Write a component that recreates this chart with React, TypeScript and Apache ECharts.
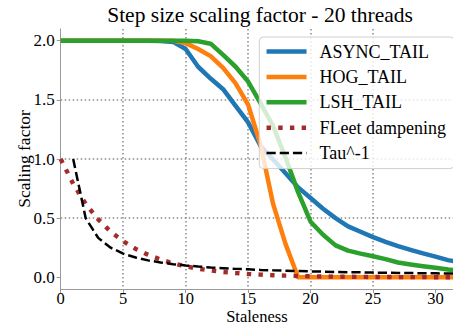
import React, { useEffect, useRef } from 'react';
import * as echarts from 'echarts';

const staleness = [0, 1, 2, 3, 4, 5, 6, 7, 8, 9, 10, 11, 12, 13, 14, 15, 16, 17, 18, 19, 20, 21, 22, 23, 24, 25, 26, 27, 28, 29, 30, 31, 32];
const asyncTail = [2.0, 2.0, 2.0, 2.0, 2.0, 2.0, 2.0, 2.0, 1.998, 1.99, 1.93, 1.78, 1.68, 1.59, 1.45, 1.31, 1.11, 0.995, 0.88, 0.76, 0.67, 0.58, 0.5, 0.43, 0.385, 0.34, 0.3, 0.264, 0.232, 0.202, 0.175, 0.145, 0.125];
const hogTail = [2.0, 2.0, 2.0, 2.0, 2.0, 2.0, 2.0, 2.0, 2.0, 2.0, 1.98, 1.93, 1.87, 1.77, 1.64, 1.46, 1.12, 0.62, 0.28, 0.0, 0.0, 0.0, 0.0, 0.0, 0.0, 0.0, 0.0, 0.0, 0.0, 0.0, 0.0, 0.0, 0.0];
const lshTail = [2.0, 2.0, 2.0, 2.0, 2.0, 2.0, 2.0, 2.0, 2.0, 2.0, 2.0, 1.995, 1.975, 1.88, 1.78, 1.655, 1.47, 1.28, 1.01, 0.72, 0.47, 0.36, 0.27, 0.225, 0.2, 0.178, 0.153, 0.125, 0.108, 0.093, 0.08, 0.066, 0.056];
const fleetDampening = [1.0, 0.79, 0.62, 0.49, 0.385, 0.305, 0.24, 0.19, 0.15, 0.117, 0.092, 0.073, 0.057, 0.045, 0.036, 0.028, 0.022, 0.017, 0.014, 0.011, 0.0086, 0.0068, 0.0053, 0.0042, 0.0033, 0.0026, 0.002, 0.0016, 0.0013, 0.001, 0.0008, 0.0006, 0.0005];
const tauStaleness = [1, 2, 3, 4, 5, 6, 7, 8, 9, 10, 11, 12, 13, 14, 15, 16, 17, 18, 19, 20, 21, 22, 23, 24, 25, 26, 27, 28, 29, 30, 31, 32];
const tauInverse = [1.0, 0.5, 0.333, 0.25, 0.2, 0.167, 0.143, 0.125, 0.111, 0.1, 0.091, 0.083, 0.077, 0.071, 0.067, 0.0625, 0.059, 0.056, 0.053, 0.05, 0.048, 0.045, 0.043, 0.042, 0.04, 0.038, 0.037, 0.036, 0.034, 0.033, 0.032, 0.031];
const xTicks = [0, 5, 10, 15, 20, 25, 30];
const yTicks = [0, 0.5, 1.0, 1.5, 2.0];
const seriesNames = ['ASYNC_TAIL', 'HOG_TAIL', 'LSH_TAIL', 'FLeet dampening', 'Tau^-1'];

export default function App() {
  const ref = useRef<HTMLDivElement>(null);
  useEffect(() => {
    const chart = echarts.init(ref.current as HTMLDivElement, null, { renderer: 'svg' });
    const font = 'Liberation Serif';
    const pair = (xs: number[], ys: number[]) => xs.map((x, i) => [x, ys[i]]);
    const gridLine = { show: true, showMinLine: false, showMaxLine: false, lineStyle: { color: '#8a8a8a', width: 1.5, type: [1.5, 2.5] } };
    const solid = (name: string, ys: number[], color: string) => ({
      name, type: 'line', data: pair(staleness, ys), symbol: 'none', silent: true,
      lineStyle: { color, width: 4.5, join: 'round' }, itemStyle: { color }, z: 3,
    });
    chart.setOption({
      animation: false,
      backgroundColor: '#fff',
      textStyle: { fontFamily: font, fontSize: 17, color: '#000' },
      title: {
        text: 'Step size scaling factor - 20 threads', left: 260, top: 4, textAlign: 'center', padding: 0,
        textStyle: { fontFamily: font, fontSize: 21.5, fontWeight: 'normal', color: '#000' },
      },
      grid: { left: 60.7, right: 0, top: 28.9, bottom: 36.9, containLabel: false, outerBoundsMode: 'none' },
      legend: {
        right: -1, top: 37, orient: 'vertical', align: 'left',
        itemWidth: 40, itemHeight: 14, itemGap: 7.4, padding: [5.5, 8, 6.5, 5],
        backgroundColor: 'rgba(255,255,255,0.8)', borderColor: '#d0d0d0', borderWidth: 1, borderRadius: 4,
        itemStyle: { opacity: 0 },
        lineStyle: { width: 'inherit' },
        textStyle: { fontFamily: font, fontSize: 18, color: '#000', lineHeight: 18, padding: [0, 0, 0, 8] },
        data: seriesNames, z: 10,
      },
      xAxis: {
        type: 'value', min: 0, max: 31.4,
        name: 'Staleness', nameLocation: 'middle', nameGap: 20.5, nameMoveOverlap: false,
        nameTextStyle: { fontFamily: font, fontSize: 16.5, color: '#000', lineHeight: 14 },
        axisLine: { show: true, onZero: false, lineStyle: { color: '#9a9a9a', width: 1 } },
        axisTick: { show: true, length: 4, lineStyle: { color: '#9a9a9a' }, customValues: xTicks },
        axisLabel: { customValues: xTicks, fontFamily: font, fontSize: 16.5, color: '#000', margin: 2, lineHeight: 14 },
        splitLine: gridLine,
      },
      yAxis: {
        type: 'value', min: -0.1, max: 2.1,
        name: 'Scaling factor', nameLocation: 'middle', nameGap: 28, nameMoveOverlap: false,
        nameTextStyle: { fontFamily: font, fontSize: 17.5, color: '#000' },
        axisLine: { show: true, onZero: false, lineStyle: { color: '#9a9a9a', width: 1 } },
        axisTick: { show: true, length: 4, lineStyle: { color: '#9a9a9a' }, customValues: yTicks },
        axisLabel: { customValues: yTicks, fontFamily: font, fontSize: 17, color: '#000', margin: 6, formatter: (v: number) => v.toFixed(1) },
        splitLine: gridLine,
      },
      series: [
        solid('ASYNC_TAIL', asyncTail, '#1f77b4'),
        solid('HOG_TAIL', hogTail, '#ff7f0e'),
        solid('LSH_TAIL', lshTail, '#2ca02c'),
        {
          name: 'FLeet dampening', type: 'line', data: pair(staleness, fleetDampening), symbol: 'none', silent: true,
          lineStyle: { color: '#a52a2a', width: 4.4, type: [4.4, 7.3] }, itemStyle: { color: '#a52a2a' }, z: 3,
        },
        {
          name: 'Tau^-1', type: 'line', data: pair(tauStaleness, tauInverse), symbol: 'none', silent: true,
          lineStyle: { color: '#000', width: 2.5, type: [9.2, 4] }, itemStyle: { color: '#000' }, z: 3,
        },
      ],
    });
    return () => chart.dispose();
  }, []);
  return <div ref={ref} style={{ position: 'fixed', left: 0, top: 0, width: 453, height: 326 }} />;
}
